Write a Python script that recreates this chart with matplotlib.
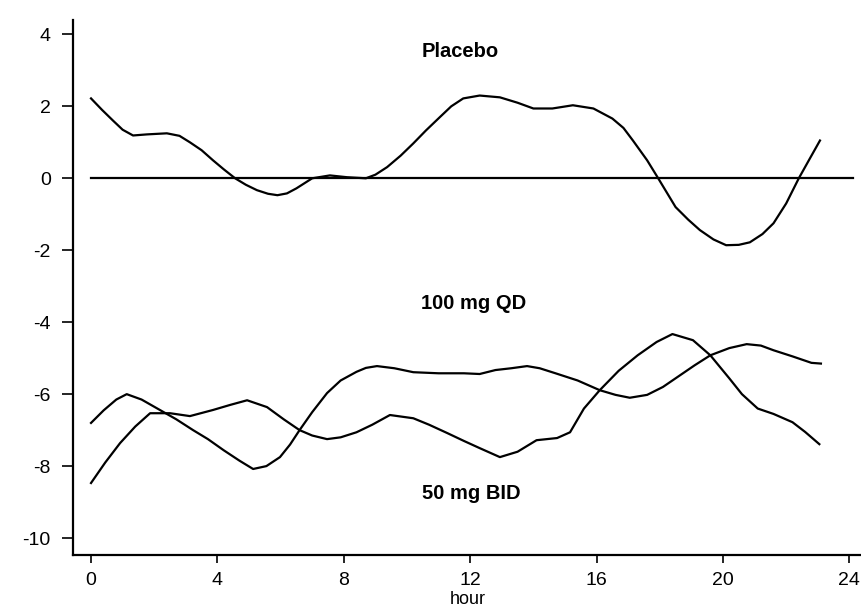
import matplotlib
matplotlib.use("Agg")
import matplotlib.pyplot as plt

# ---- data ----
placebo_hour = [0, 0.35, 0.7, 1.0, 1.33, 1.77, 2.4, 2.8, 3.13, 3.5, 3.86, 4.2, 4.56, 4.9, 5.25,
                5.6, 5.9, 6.2, 6.5, 7.0, 7.56, 8.1, 8.7, 9.0, 9.37, 9.8, 10.2, 10.6, 11.04, 11.4,
                11.78, 12.3, 12.94, 13.5, 14.0, 14.6, 15.25, 15.9, 16.5, 16.85, 17.15, 17.6, 17.95,
                18.5, 18.9, 19.27, 19.7, 20.1, 20.5, 20.85, 21.25, 21.6, 22.0, 22.4, 22.75, 23.07]
placebo_val = [2.22, 1.9, 1.6, 1.35, 1.19, 1.22, 1.25, 1.18, 1.0, 0.78, 0.5, 0.25, 0.0, -0.18, -0.33,
               -0.43, -0.47, -0.42, -0.28, 0.0, 0.08, 0.03, 0.0, 0.1, 0.31, 0.63, 0.97, 1.33, 1.7, 2.0,
               2.22, 2.3, 2.25, 2.1, 1.94, 1.94, 2.03, 1.94, 1.66, 1.4, 1.05, 0.5, 0.0,
               -0.8, -1.15, -1.44, -1.7, -1.86, -1.85, -1.78, -1.55, -1.25, -0.7, 0.0, 0.55, 1.05]

qd_hour = [0, 0.4, 0.8, 1.13, 1.6, 2.18, 2.7, 3.23, 3.7, 4.2, 4.7, 5.13, 5.55, 5.98, 6.3, 6.6, 7.0,
           7.47, 7.9, 8.4, 8.7, 9.05, 9.6, 10.2, 11.0, 11.8, 12.3, 12.8, 13.3, 13.8, 14.2, 14.7,
           15.4, 16.1, 16.6, 17.05, 17.6, 18.1, 18.6, 19.1, 19.6, 20.2, 20.75, 21.2, 21.6, 22.2,
           22.8, 23.1]
qd_val = [-6.8, -6.45, -6.15, -6.0, -6.15, -6.44, -6.7, -7.0, -7.25, -7.56, -7.85, -8.08, -8.0,
          -7.75, -7.4, -7.0, -6.5, -5.97, -5.62, -5.38, -5.27, -5.22, -5.28, -5.39, -5.42, -5.42,
          -5.44, -5.33, -5.28, -5.22, -5.28, -5.42, -5.62, -5.89, -6.02, -6.1, -6.02, -5.8, -5.5,
          -5.2, -4.92, -4.72, -4.61, -4.65, -4.78, -4.95, -5.13, -5.15]

bid_hour = [0, 0.45, 0.92, 1.4, 1.87, 2.5, 3.13, 3.86, 4.4, 4.94, 5.57, 6.1, 6.6, 7.0, 7.47, 7.9,
            8.4, 8.9, 9.46, 10.2, 10.7, 11.27, 11.8, 12.3, 12.94, 13.5, 14.1, 14.75, 15.16, 15.6,
            16.1, 16.7, 17.3, 17.9, 18.4, 19.05, 19.6, 20.2, 20.6, 21.1, 21.6, 22.2, 22.6, 23.05]
bid_val = [-8.47, -7.9, -7.36, -6.9, -6.53, -6.53, -6.61, -6.44, -6.3, -6.17, -6.36, -6.7, -7.0,
           -7.15, -7.25, -7.2, -7.06, -6.85, -6.58, -6.67, -6.85, -7.08, -7.3, -7.5, -7.75, -7.6,
           -7.28, -7.22, -7.06, -6.4, -5.89, -5.35, -4.92, -4.55, -4.33, -4.5, -4.92, -5.56, -6.0,
           -6.4, -6.55, -6.78, -7.05, -7.39]

zero_hour = [0, 24.1]
zero_val = [0, 0]

x_ticks = [0, 4, 8, 12, 16, 20, 24]
y_ticks = [4, 2, 0, -2, -4, -6, -8, -10]
y_tick_labels = ["4", "2", "0", "-2", "-4", "-6", "-8", "-10"]

labels = ["Placebo", "100 mg QD", "50 mg BID"]
label_x = [11.68, 12.12, 12.03]
label_y = [3.53, -3.47, -8.75]

# ---- figure ----
plt.rcParams['font.family'] = ['Liberation Sans', 'DejaVu Sans']
fig = plt.figure(figsize=(8.62, 6.11), dpi=100)
ax = fig.add_axes([0.0847, 0.0917, 0.9153, 0.875])

lw = 1.6
ax.plot(zero_hour, zero_val, color='black', lw=lw)
ax.plot(placebo_hour, placebo_val, color='black', lw=lw)
ax.plot(qd_hour, qd_val, color='black', lw=lw)
ax.plot(bid_hour, bid_val, color='black', lw=lw)

for t, x, y in zip(labels, label_x, label_y):
    ax.text(x, y, t, ha='center', va='center', fontsize=14.5, fontweight='bold')

ax.set_xlim(-0.57, 24.4)
ax.set_ylim(-10.47, 4.39)

for s in ['top', 'right']:
    ax.spines[s].set_visible(False)
for s in ['left', 'bottom']:
    ax.spines[s].set_linewidth(1.6)

ax.set_xticks(x_ticks)
ax.set_xticklabels([str(v) for v in x_ticks])
ax.set_yticks(y_ticks)
ax.set_yticklabels(y_tick_labels)
ax.tick_params(axis='y', direction='out', length=8, width=1.2, labelsize=14, pad=8)
ax.tick_params(axis='x', direction='out', length=6, width=1.2, labelsize=14, pad=6)
ax.set_xlabel('hour', fontsize=13, labelpad=2)

fig.savefig('out.png', dpi=100)
